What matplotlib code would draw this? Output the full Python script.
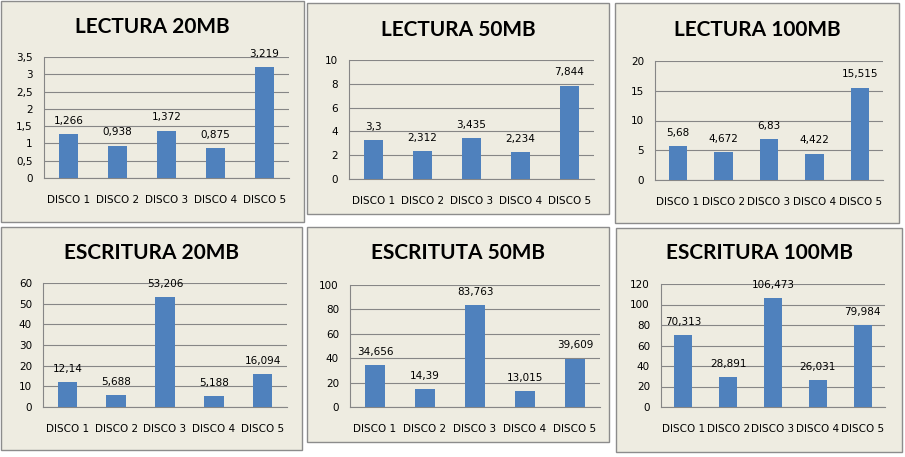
import numpy as np
import matplotlib
matplotlib.use("Agg")
import matplotlib.pyplot as plt
from matplotlib.patches import Rectangle
from matplotlib.ticker import FuncFormatter

# datos
discos = ["DISCO 1", "DISCO 2", "DISCO 3", "DISCO 4", "DISCO 5"]

titulos = ["LECTURA 20MB", "LECTURA 50MB", "LECTURA 100MB",
           "ESCRITURA 20MB", "ESCRITUTA 50MB", "ESCRITURA 100MB"]

lectura_20 = [1.266, 0.938, 1.372, 0.875, 3.219]
lectura_50 = [3.3, 2.312, 3.435, 2.234, 7.844]
lectura_100 = [5.68, 4.672, 6.83, 4.422, 15.515]
escritura_20 = [12.14, 5.688, 53.206, 5.188, 16.094]
escritura_50 = [34.656, 14.39, 83.763, 13.015, 39.609]
escritura_100 = [70.313, 28.891, 106.473, 26.031, 79.984]

y_max = [3.5, 10, 20, 60, 100, 120]
y_paso = [0.5, 2, 5, 10, 20, 20]

series = [lectura_20, lectura_50, lectura_100, escritura_20, escritura_50, escritura_100]

# posiciones en pixeles: (izq, arriba, der, abajo)
paneles = [(1, 1, 304, 222), (307, 3, 609, 214), (615, 3, 899, 223),
           (1, 227, 302, 450), (307, 227, 609, 442), (616, 228, 902, 452)]
graficos = [(44, 57, 289, 178), (349, 60, 594, 179), (655, 61, 883, 180),
            (43, 283, 287, 407), (350, 285, 600, 407), (661, 284, 885, 407)]
titulo_y = [27, 30, 30, 253, 253, 253]

W, H = 905, 457
FONDO = "#EEECE1"
BORDE = "#8C8C8C"
AZUL = "#4F81BD"
GRIS = "#868686"


def coma(v, pos=None):
    return ("%g" % v).replace(".", ",")


fig = plt.figure(figsize=(W / 100, H / 100), dpi=100, facecolor="white")

for i in range(6):
    x0, y0, x1, y1 = paneles[i]
    fig.patches.append(Rectangle((x0 / W, 1 - y1 / H), (x1 - x0) / W, (y1 - y0) / H,
                                 transform=fig.transFigure, facecolor=FONDO,
                                 edgecolor=BORDE, linewidth=1.0, zorder=-5))
    fig.text((x0 + x1) / 2 / W, 1 - titulo_y[i] / H, titulos[i], ha="center", va="center",
             fontsize=15, fontweight="bold", family="Lato", color="black")

    gx0, gy0, gx1, gy1 = graficos[i]
    ax = fig.add_axes([gx0 / W, 1 - gy1 / H, (gx1 - gx0) / W, (gy1 - gy0) / H], zorder=2)
    ax.set_facecolor("none")
    x = np.arange(len(discos))
    ax.bar(x, series[i], width=0.4, color=AZUL, zorder=3)
    ax.set_xlim(-0.5, len(discos) - 0.5)
    ax.set_ylim(0, y_max[i])
    ax.set_yticks(np.arange(0, y_max[i] + y_paso[i] / 2, y_paso[i]))
    ax.yaxis.set_major_formatter(FuncFormatter(coma))
    ax.set_xticks(x)
    ax.set_xticklabels(discos)
    ax.grid(axis="y", color=GRIS, linewidth=0.8, zorder=0)
    ax.set_axisbelow(True)
    for lado in ["top", "right"]:
        ax.spines[lado].set_visible(False)
    ax.spines["left"].set_color(GRIS)
    ax.spines["bottom"].set_color(GRIS)
    ax.spines["left"].set_linewidth(0.8)
    ax.spines["bottom"].set_linewidth(0.8)
    ax.tick_params(axis="both", length=0, labelsize=7.5, colors="black")
    ax.tick_params(axis="y", pad=8)
    ax.tick_params(axis="x", pad=12)

    for xi, v in zip(x, series[i]):
        ax.annotate(coma(v), (xi, v), xytext=(0, 9.5), textcoords="offset points",
                    ha="center", va="center", fontsize=7.5, color="black")

fig.savefig("out.png", dpi=100, facecolor="white")
